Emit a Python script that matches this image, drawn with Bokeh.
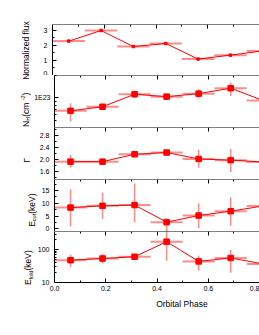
import math
from bokeh.plotting import figure
from bokeh.layouts import column, row
from bokeh.models import (ColumnDataSource, Range1d, FixedTicker, LinearAxis, Label,
                          CustomJSTickFormatter)
from bokeh.embed import file_html
from bokeh.resources import INLINE

# ---------------- data ----------------
phase = [0.0625, 0.1875, 0.3125, 0.4375, 0.5625, 0.6875, 0.8125]
phase_half = [0.0625, 0.0625, 0.0625, 0.0625, 0.0625, 0.0625, 0.0625]

flux = [2.28, 2.98, 1.92, 2.12, 1.09, 1.35, 1.63]

nh = [6.7e22, 7.6e22, 1.12e23, 1.04e23, 1.14e23, 1.35e23, 9.25e22]
nh_lo = [4.8e22, 7.0e22, 1.0e23, 1.0e23, 0.99e23, 1.06e23, 8.7e22]
nh_hi = [8.5e22, 8.3e22, 1.25e23, 1.08e23, 1.31e23, 1.6e23, 9.8e22]

gamma = [1.92, 1.92, 2.165, 2.22, 2.01, 1.97, 1.91]
gamma_lo = [1.72, 1.87, 2.11, 2.18, 1.72, 1.57, 1.80]
gamma_hi = [2.14, 1.97, 2.22, 2.26, 2.31, 2.34, 2.02]

ecut = [8.3, 9.0, 9.3, 2.6, 5.2, 6.9, 8.9]
ecut_lo = [0.9, 3.8, 2.5, -2.0, 0.2, 1.2, 5.0]
ecut_hi = [15.5, 14.2, 17.7, 4.0, 10.0, 12.3, 13.0]

efold = [48, 54, 61, 176, 44, 56, 37]
efold_lo = [29, 38, 50, 46, 23, 20, 30]
efold_hi = [70, 74, 74, 420, 65, 98, 45]

x_major = [0.0, 0.2, 0.4, 0.6, 0.8, 1.0]
x_minor = [0.1, 0.3, 0.5, 0.7, 0.9]
x_title = "Orbital Phase"

# ---------------- layout constants (page pixels, origin top-left) ----------------
FONT = "Liberation Sans"
RED = "#ff0000"
W = 259            # total width
LEFT = 52          # frame left edge
FRAME_W = W - LEFT
X0, X1 = 0.0, 0.8
TITLE_PX = 8.5
SUB_PX = 5.5

# Arial-like advance widths (em) to place composed axis titles
AW = {'N': .722, 'o': .556, 'r': .333, 'm': .833, 'a': .556, 'l': .222, 'i': .222,
      'z': .5, 'e': .556, 'd': .556, ' ': .278, 'f': .278, 'u': .556, 'x': .5,
      'H': .722, '(': .333, 'c': .5, ')': .333, '-': .333, '2': .556, 'E': .667,
      't': .278, 'k': .5, 'V': .667, 'Γ': .556}


def tw(s, px):
    return sum(AW.get(ch, .556) for ch in s) * px


panels = [
    dict(y=flux, lo=None, hi=None, rng=(0, 3.38), log=False,
         ticks=[0, 1, 2, 3], minor=[0.5, 1.5, 2.5], fmt="return tick.toFixed(0);",
         msize=2.5, top=24, fh=51, bottom=0, standoff=5,
         title=[("Normalized flux", TITLE_PX, 0)], tcy=50.0, tbx=28.8),
    dict(y=nh, lo=nh_lo, hi=nh_hi, rng=(4e22, 2e23), log=True,
         ticks=[1e23], minor=[4e22, 5e22, 6e22, 7e22, 8e22, 9e22, 2e23],
         fmt="return '1E' + Math.round(Math.log10(tick));",
         msize=5.5, top=0, fh=52, bottom=0, standoff=4,
         title=[("N", TITLE_PX, 0), ("H", SUB_PX, -1.2), (" (cm", TITLE_PX, 0),
                ("-2", SUB_PX, 3.5), (")", TITLE_PX, 0)], tcy=109.3, tbx=28.0),
    dict(y=gamma, lo=gamma_lo, hi=gamma_hi, rng=(1.33, 3.05), log=False,
         ticks=[1.6, 2.0, 2.4, 2.8], minor=[1.4, 1.8, 2.2, 2.6, 3.0],
         fmt="return tick.toFixed(1);",
         msize=5.5, top=0, fh=52, bottom=0, standoff=5,
         title=[("Γ", TITLE_PX, 0)], tcy=160, tbx=29.5),
    dict(y=ecut, lo=ecut_lo, hi=ecut_hi, rng=(-1.05, 19.3), log=False,
         ticks=[0, 5, 10, 15], minor=[2.5, 7.5, 12.5, 17.5],
         fmt="return tick.toFixed(0);",
         msize=5.5, top=0, fh=52, bottom=0, standoff=5,
         title=[("E", TITLE_PX, 0), ("cut", SUB_PX, -1.5), (" (keV)", TITLE_PX, 0)],
         tcy=208.5, tbx=34),
    dict(y=efold, lo=efold_lo, hi=efold_hi, rng=(10, 360), log=True,
         ticks=[10, 100, 1000], minor=[20, 30, 40, 50, 60, 70, 80, 90, 200, 300],
         fmt="return tick.toFixed(0);",
         msize=5.5, top=0, fh=51, bottom=14, standoff=5,
         title=[("E", TITLE_PX, 0), ("fold", SUB_PX, -1.5), (" (keV)", TITLE_PX, 0)],
         tcy=266, tbx=30.5),
]
# panels grouped into rows that share one title strip, and that strip's width
groups = [([0, 1], 31), ([2], 36), ([3], 38), ([4], 34)]
XT_ROW_H = 16
XT_CENTER = 303   # page y of the x-axis title centre

# page top of each panel
_acc = 0
for pn in panels:
    pn["page_top"] = _acc
    pn["h"] = pn["top"] + pn["fh"] + pn["bottom"]
    _acc += pn["h"]


def style_axis(ax, size="7px", standoff=5):
    ax.axis_line_color = "black"
    ax.axis_line_width = 1
    ax.major_tick_in = 4
    ax.major_tick_out = 0
    ax.minor_tick_in = 2
    ax.minor_tick_out = 0
    ax.major_tick_line_color = "black"
    ax.minor_tick_line_color = "black"
    ax.major_label_text_font = FONT
    ax.major_label_text_font_size = size
    ax.major_label_text_color = "black"
    ax.major_label_standoff = standoff


def plain_fig(w, h, xr, yr):
    f = figure(width=w, height=h, output_backend="svg", toolbar_location=None,
               x_range=xr, y_range=yr, x_axis_location=None, y_axis_location=None,
               min_border_left=0, min_border_right=0, min_border_top=0,
               min_border_bottom=0, frame_align=False)
    f.outline_line_color = None
    f.background_fill_color = "white"
    f.border_fill_color = "white"
    f.xgrid.visible = False
    f.ygrid.visible = False
    return f


def data_fig(pn, a, last):
    p = figure(width=W - a, height=pn["h"], output_backend="svg", toolbar_location=None,
               x_range=Range1d(X0, X1), y_range=Range1d(*pn["rng"]),
               y_axis_type="log" if pn["log"] else "linear",
               x_axis_location=None, frame_align=False,
               min_border_left=LEFT - a, min_border_right=0,
               min_border_top=pn["top"], min_border_bottom=pn["bottom"])
    p.outline_line_color = None
    p.background_fill_color = "white"
    p.border_fill_color = "white"
    p.xgrid.visible = False
    p.ygrid.visible = False

    # top axis drawn at the top edge of the frame (ticks inward, no labels)
    xa = LinearAxis(ticker=FixedTicker(ticks=x_major, minor_ticks=x_minor),
                    formatter=CustomJSTickFormatter(code="return '';"),
                    fixed_location=pn["rng"][1])
    style_axis(xa, standoff=0)
    p.add_layout(xa, "above")

    ya = p.yaxis[0]
    ya.ticker = FixedTicker(ticks=pn["ticks"], minor_ticks=pn["minor"])
    ya.formatter = CustomJSTickFormatter(code=pn["fmt"])
    style_axis(ya, size="7px", standoff=pn["standoff"])

    if last:
        xb = LinearAxis(ticker=FixedTicker(ticks=x_major, minor_ticks=x_minor),
                        formatter=CustomJSTickFormatter(code="return tick.toFixed(1);"))
        style_axis(xb, size="7px", standoff=3)
        p.add_layout(xb, "below")

    xs = phase
    src = ColumnDataSource(dict(
        x=xs, y=pn["y"],
        x0=[u - v for u, v in zip(xs, phase_half)],
        x1=[u + v for u, v in zip(xs, phase_half)],
    ))
    p.segment(x0="x0", y0="y", x1="x1", y1="y", source=src,
              line_color=RED, line_alpha=0.45, line_width=2)
    if pn["lo"] is not None:
        src2 = ColumnDataSource(dict(x=xs, lo=pn["lo"], hi=pn["hi"]))
        p.segment(x0="x", y0="lo", x1="x", y1="hi", source=src2,
                  line_color=RED, line_alpha=0.45, line_width=1.5)
    p.line(x="x", y="y", source=src, line_color=RED, line_width=1)
    p.scatter(x="x", y="y", source=src, marker="square", size=pn["msize"],
              fill_color=RED, line_color=RED)
    return p


rows = []
for idxs, a in groups:
    gp = [panels[k] for k in idxs]
    top = gp[0]["page_top"]
    H = sum(pn["h"] for pn in gp)

    # ---- title strip (left), pixel coordinates, y up ----
    tf = plain_fig(a, H, Range1d(0, a), Range1d(0, H))
    for pn in gp:
        total = sum(tw(t, s) for t, s, _ in pn["title"])
        cur = pn["tcy"] + total / 2          # page y where the text starts
        for t, s, shift in pn["title"]:
            w = tw(t, s)
            cy_page = cur - w / 2
            cx_page = pn["tbx"] - shift - 0.33 * s
            tf.add_layout(Label(x=cx_page, y=H - (cy_page - top),
                                x_units="data", y_units="data", text=t,
                                angle=math.pi / 2, text_font=FONT,
                                text_font_size=f"{s}px", text_align="center",
                                text_baseline="middle", text_color="black"))
            cur -= w

    figs = [data_fig(pn, a, panels.index(pn) == len(panels) - 1) for pn in gp]
    right = figs[0] if len(figs) == 1 else column(*figs, spacing=0)
    rows.append(row(tf, right, spacing=0))

# ---- x-axis title strip (shares the phase scale of the panels) ----
xt = plain_fig(W, XT_ROW_H, Range1d(X0 - LEFT / FRAME_W * (X1 - X0), X1),
               Range1d(0, XT_ROW_H))
row_top = sum(pn["h"] for pn in panels)
xt.add_layout(Label(x=0.5, y=XT_ROW_H - (XT_CENTER - row_top), x_units="data",
                    y_units="data", text=x_title, text_font=FONT,
                    text_font_size="8.5px", text_align="center",
                    text_baseline="middle", text_color="black"))
rows.append(xt)

layout = column(*rows, spacing=0)
open("out.html", "w").write(file_html(layout, INLINE))
